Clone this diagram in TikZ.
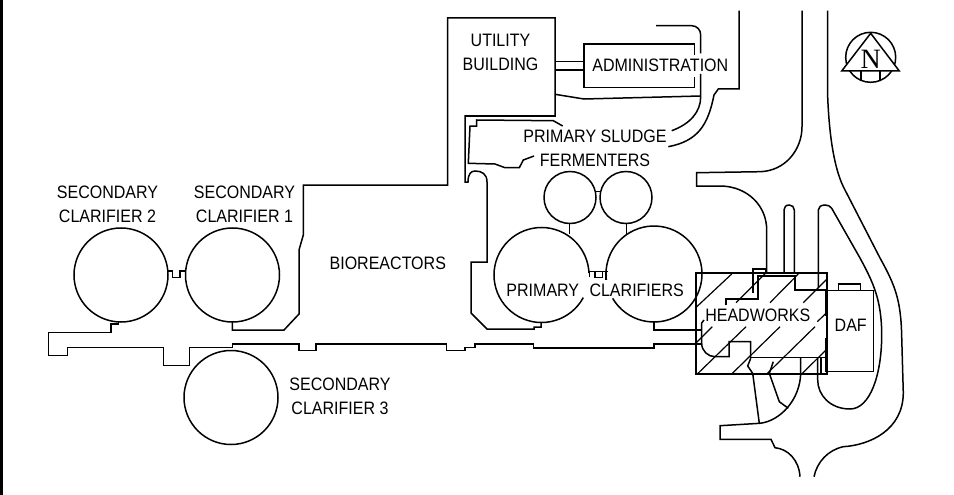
\documentclass[tikz,border=0pt]{standalone}
\usepackage{fontspec}
\setmainfont[FakeStretch=0.89]{Liberation Sans}
\newfontfamily\northfont{Liberation Serif}
\begin{document}
\begin{tikzpicture}[x=1pt,y=-1pt,line width=1.5pt,line join=miter,
	plan label/.style={font=\fontsize{18}{24}\selectfont,align=center,inner sep=0pt},
	heavy wall/.style={line width=1.8pt},
	hatch line/.style={line width=1.2pt}]
	\useasboundingbox ( 0, 0 ) rectangle ( 954, 495 );
	\draw [line width=2.6pt] ( 1.3, 0 ) -- ( 1.3, 495 );

	% secondary clarifiers
	\draw ( 121, 275 ) circle [radius=47pt];
	\draw ( 232.5, 275 ) circle [radius=47pt];
	\draw ( 231, 397.5 ) circle [radius=47pt];
	\draw ( 167.7, 271 ) -- ( 172.7, 271 ) -- ( 172.7, 277.7 ) -- ( 180, 277.7 ) -- ( 180, 271 ) -- ( 185.7, 271 );

	% channel along the south side
	\draw ( 118.3, 322 ) -- ( 118.3, 324 ) -- ( 111, 324 ) -- ( 111, 332.7 ) -- ( 48.3, 332.7 ) -- ( 48.3, 355.7 ) -- ( 67.7, 355.7 ) -- ( 67.7, 347.7 ) -- ( 163.3, 347.7 ) -- ( 163.3, 365.7 ) -- ( 189.3, 365.7 ) -- ( 189.3, 347.7 ) -- ( 232.3, 347.7 ) -- ( 232.3, 344 ) -- ( 299, 344 ) -- ( 299, 350.3 ) -- ( 316, 350.3 ) -- ( 316, 344 ) -- ( 446.7, 344 ) -- ( 446.7, 350.3 ) -- ( 465, 350.3 ) -- ( 465, 347.7 ) -- ( 475, 347.7 ) -- ( 475, 344 ) -- ( 533.3, 344 ) -- ( 533.3, 348 ) -- ( 654, 348 ) -- ( 654, 344 ) -- ( 701, 344 );

	% bioreactors and utility building
	\draw ( 232.3, 322 ) -- ( 232.3, 330 ) -- ( 284, 330 ) -- ( 299, 314 ) -- ( 299, 250 ) -- ( 303.3, 235 ) -- ( 303.3, 185 ) -- ( 447.5, 185 ) -- ( 447.5, 18 ) -- ( 555, 18 ) -- ( 555, 116 ) -- ( 465, 116 ) -- ( 465, 182 ) -- ( 468, 182 ) .. controls ( 468, 174 ) and ( 471, 171 ) .. ( 475, 171 ) .. controls ( 482, 171 ) and ( 487, 174 ) .. ( 487, 182 ) -- ( 487, 262 ) -- ( 471, 262 ) -- ( 471, 313 ) -- ( 487, 329 ) -- ( 534, 329 ) -- ( 534, 327 ) -- ( 541, 327 ) -- ( 541, 322.5 );

	% administration
	\draw ( 555, 61.7 ) -- ( 584, 61.7 );
	\draw ( 555, 70 ) -- ( 584, 70 );
	\draw ( 694.3, 55 ) -- ( 694.3, 44 ) -- ( 584, 44 ) -- ( 584, 87.7 ) -- ( 694.3, 87.7 ) -- ( 694.3, 76.7 );
	\draw ( 656, 25.7 ) -- ( 691.7, 25.7 ) .. controls ( 697, 25.7 ) and ( 700.7, 30 ) .. ( 700.7, 35 ) -- ( 700.7, 53.3 );
	\draw ( 700.7, 74 ) -- ( 700.7, 96.7 ) .. controls ( 700.7, 112 ) and ( 690, 124 ) .. ( 671.7, 130.7 );
	\draw ( 555, 94.3 ) -- ( 584, 99 ) -- ( 700.7, 96 );
	\draw ( 739, 10.7 ) -- ( 739, 89 ) -- ( 718.3, 89 ) -- ( 714, 95 ) .. controls ( 708, 125 ) and ( 698, 141 ) .. ( 668.3, 146.7 );

	% primary sludge fermenters
	\draw ( 562.7, 126 ) -- ( 553.3, 120.7 ) -- ( 476.7, 120 ) -- ( 476.7, 126 ) -- ( 470, 126 ) -- ( 468.3, 163.3 ) -- ( 495, 164 ) -- ( 505, 167.7 ) -- ( 519.3, 167.7 ) -- ( 523.3, 160 ) -- ( 534, 156 );
	\draw ( 570, 197.5 ) circle [radius=26pt];
	\draw ( 626, 197.5 ) circle [radius=26pt];
	\draw ( 596, 191.7 ) -- ( 600, 191.7 );
	\draw ( 569.3, 223.3 ) -- ( 569.3, 234.3 );
	\draw ( 626.7, 223.3 ) -- ( 626.7, 234 );

	% primary clarifiers
	\coordinate (clarifierA) at ( 541.5, 275 );
	\coordinate (clarifierB) at ( 654, 274 );
	\draw ([shift={(-28.4:47.5pt)}]clarifierA) arc [start angle=-28.4, end angle=-357.6, radius=47.5pt];
	\draw ([shift={(210.5:48pt)}]clarifierB) arc [start angle=210.5, end angle=547, radius=48pt];
	\draw ( 589.3, 277.3 ) -- ( 589.3, 271.7 ) -- ( 608.3, 271.7 );
	\draw ( 595, 271.7 ) rectangle ( 602.7, 277.3 );
	\draw ( 606, 271.7 ) -- ( 606, 280 );
	\draw ( 654, 322 ) -- ( 654, 330 ) -- ( 701, 330 );

	% headworks
	\draw [heavy wall] ( 695.7, 272.7 ) rectangle ( 827.3, 374 );
	\draw [hatch line] ( 695.7, 307.7 ) -- ( 731.7, 274 );
	\draw [hatch line] ( 736, 302.7 ) -- ( 766, 272.7 );
	\draw [hatch line] ( 770, 302.7 ) -- ( 798.3, 274 );
	\draw [hatch line] ( 803.3, 302.7 ) -- ( 826.7, 279.3 );
	\draw [hatch line] ( 817.3, 321.7 ) -- ( 826, 313.3 );
	\draw [hatch line] ( 695.7, 343.3 ) -- ( 712.3, 326.7 );
	\draw [hatch line] ( 697.3, 374 ) -- ( 746, 326.7 );
	\draw [hatch line] ( 731.7, 374 ) -- ( 780, 326.7 );
	\draw [hatch line] ( 766.7, 374 ) -- ( 815, 326.7 );
	\draw [hatch line] ( 801.7, 374 ) -- ( 826, 350 );
	\draw [heavy wall] ( 752.7, 293 ) -- ( 752.7, 269.3 ) -- ( 766, 269.3 ) -- ( 766, 272.7 );
	\draw [heavy wall] ( 726, 305 ) -- ( 726, 299.3 ) -- ( 758.3, 299.3 ) -- ( 758.3, 276 ) -- ( 795, 276 ) -- ( 795, 290 ) -- ( 825.5, 290 ) -- ( 825.5, 316 );
	\draw ( 825.5, 338 ) -- ( 825.5, 372 );
	\draw ( 750.7, 357.3 ) -- ( 825, 357.3 );
	\draw ( 821, 358 ) -- ( 821, 373 );
	\draw ( 704, 320 ) -- ( 701.7, 323 ) -- ( 701.7, 343.3 ) .. controls ( 701.7, 351 ) and ( 708, 356.7 ) .. ( 715, 356.7 ) -- ( 729, 356.7 ) -- ( 729, 341.7 ) -- ( 750.7, 341.7 ) -- ( 750.7, 358.3 );

	% roads
	\draw ( 802, 10.7 ) -- ( 802, 126.7 ) .. controls ( 802, 150 ) and ( 785, 171 ) .. ( 760, 171.7 ) -- ( 696.7, 172.7 ) -- ( 696.7, 186 ) -- ( 721.7, 186 ) .. controls ( 748, 187 ) and ( 766.7, 206 ) .. ( 766.7, 230 ) -- ( 766.7, 272.7 );
	\draw ( 784, 272.7 ) -- ( 784, 210 ) .. controls ( 784, 207 ) and ( 786, 205 ) .. ( 789.3, 205 ) .. controls ( 792, 205 ) and ( 794.3, 207 ) .. ( 794.3, 210 ) -- ( 794.3, 272.7 );
	\draw ( 818.3, 288.3 ) -- ( 818.3, 210 ) .. controls ( 818.3, 207 ) and ( 821, 205 ) .. ( 825, 205 ) .. controls ( 828, 205 ) and ( 830, 206 ) .. ( 831.7, 208.3 ) -- ( 860, 258 ) .. controls ( 873, 282 ) and ( 881.7, 300 ) .. ( 881.7, 335 ) .. controls ( 881.7, 375 ) and ( 870, 409 ) .. ( 850, 409 ) .. controls ( 830, 409 ) and ( 817.7, 395 ) .. ( 817.7, 380 ) -- ( 817.7, 358.3 );
	\draw ( 827.7, 10.7 ) -- ( 827.7, 97 ) .. controls ( 829, 130 ) and ( 833, 165 ) .. ( 843.3, 186.7 ) -- ( 880, 258 ) .. controls ( 895, 285 ) and ( 901, 300 ) .. ( 901.7, 336.7 ) -- ( 903.3, 393 ) .. controls ( 903, 430 ) and ( 870, 445 ) .. ( 843.3, 446.7 ) .. controls ( 828, 450 ) and ( 817, 462 ) .. ( 814, 476.7 );
	\draw ( 800, 476.7 ) .. controls ( 799, 460 ) and ( 788, 449 ) .. ( 775, 447.7 ) -- ( 771, 439.3 ) -- ( 720, 439.3 ) -- ( 720, 425.7 ) -- ( 760, 423.3 ) .. controls ( 780, 421 ) and ( 800, 400 ) .. ( 800.7, 373.3 ) -- ( 800.7, 357.3 );
	\draw ( 759.3, 423.3 ) -- ( 752.7, 373.3 ) -- ( 747.7, 366 ) -- ( 750.7, 358.3 );
	\draw ( 788.3, 408.3 ) -- ( 779.3, 401.7 ) -- ( 769.3, 373.3 ) -- ( 773.3, 361.7 );

	% daf
	\draw ( 826.7, 290.7 ) rectangle ( 873.3, 371.7 );
	\draw ( 838.3, 290.7 ) -- ( 838.3, 284 ) -- ( 860.7, 284 ) -- ( 860.7, 290.7 );

	% north sign
	\draw ( 870.7, 57.3 ) circle [radius=25pt];
	\draw [fill=white] ( 870.7, 33.3 ) -- ( 841.7, 71 ) -- ( 899.3, 71 ) -- cycle;
	\draw ( 861, 71 ) -- ( 861, 81 );
	\draw ( 880, 71 ) -- ( 880, 80 );
	\node (north) at ( 870.7, 59 ) [inner sep=0pt,font=\northfont\fontsize{28}{28}\selectfont] {N};

	% labels
	\node (utility) at ( 500.5, 52 ) [plan label] {UTILITY\\BUILDING};
	\node (administration) at ( 660.3, 65 ) [plan label] {ADMINISTRATION};
	\node (fermenters) at ( 595, 148.5 ) [plan label] {PRIMARY SLUDGE\\FERMENTERS};
	\node (secondaryB) at ( 107.5, 204.5 ) [plan label] {SECONDARY\\CLARIFIER 2};
	\node (secondaryA) at ( 244.5, 204.5 ) [plan label] {SECONDARY\\CLARIFIER 1};
	\node (secondaryC) at ( 340, 396.5 ) [plan label] {SECONDARY\\CLARIFIER 3};
	\node (bioreactors) at ( 387.8, 263.3 ) [plan label] {BIOREACTORS};
	\node (primary) at ( 542.8, 290 ) [plan label] {PRIMARY};
	\node (clarifiers) at ( 636.7, 290 ) [plan label] {CLARIFIERS};
	\node (headworks) at ( 757.8, 315 ) [plan label] {HEADWORKS};
	\node (daf) at ( 850.7, 325 ) [plan label] {DAF};
\end{tikzpicture}
\end{document}
